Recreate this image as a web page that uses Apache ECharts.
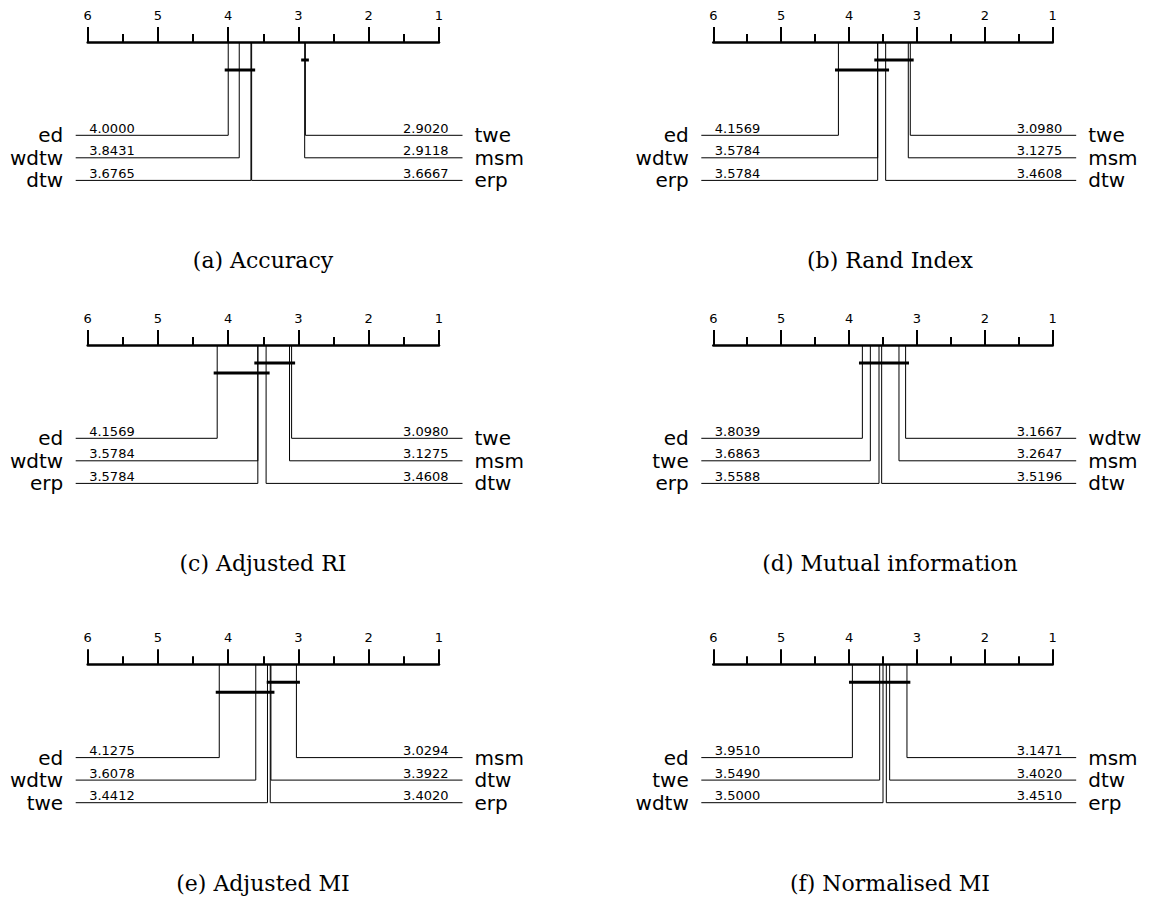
<!DOCTYPE html>
<html>
<head>
<meta charset="utf-8">
<script src="https://cdn.jsdelivr.net/npm/echarts@6/dist/echarts.min.js"></script>
<style>
html,body{margin:0;padding:0;background:#fff;}
#chart{width:1166px;height:899px;}
</style>
</head>
<body>
<div id="chart"></div>
<script>
// ---------- DATA ----------
const rankTicks = [1, 2, 3, 4, 5, 6];
const captions = ['(a) Accuracy', '(b) Rand Index', '(c) Adjusted RI',
                  '(d) Mutual information', '(e) Adjusted MI', '(f) Normalised MI'];

// first three = left side (top to bottom), last three = right side (top to bottom)
const methodsA = ['ed', 'wdtw', 'dtw', 'twe', 'msm', 'erp'];
const ranksA   = [4.0000, 3.8431, 3.6765, 2.9020, 2.9118, 3.6667];
const cliquesA = [['twe', 'msm'], ['ed', 'wdtw', 'dtw', 'erp']];

const methodsB = ['ed', 'wdtw', 'erp', 'twe', 'msm', 'dtw'];
const ranksB   = [4.1569, 3.5784, 3.5784, 3.0980, 3.1275, 3.4608];
const cliquesB = [['wdtw', 'erp', 'dtw', 'msm', 'twe'], ['ed', 'wdtw', 'erp', 'dtw']];

const methodsC = ['ed', 'wdtw', 'erp', 'twe', 'msm', 'dtw'];
const ranksC   = [4.1569, 3.5784, 3.5784, 3.0980, 3.1275, 3.4608];
const cliquesC = [['wdtw', 'erp', 'dtw', 'msm', 'twe'], ['ed', 'wdtw', 'erp', 'dtw']];

const methodsD = ['ed', 'twe', 'erp', 'wdtw', 'msm', 'dtw'];
const ranksD   = [3.8039, 3.6863, 3.5588, 3.1667, 3.2647, 3.5196];
const cliquesD = [['ed', 'twe', 'erp', 'dtw', 'msm', 'wdtw']];

const methodsE = ['ed', 'wdtw', 'twe', 'msm', 'dtw', 'erp'];
const ranksE   = [4.1275, 3.6078, 3.4412, 3.0294, 3.3922, 3.4020];
const cliquesE = [['erp', 'dtw', 'msm'], ['ed', 'wdtw', 'twe', 'erp', 'dtw']];

const methodsF = ['ed', 'twe', 'wdtw', 'msm', 'dtw', 'erp'];
const ranksF   = [3.9510, 3.5490, 3.5000, 3.1471, 3.4020, 3.4510];
const cliquesF = [['ed', 'twe', 'wdtw', 'erp', 'dtw', 'msm']];

const panels = [
  [methodsA, ranksA, cliquesA], [methodsB, ranksB, cliquesB],
  [methodsC, ranksC, cliquesC], [methodsD, ranksD, cliquesD],
  [methodsE, ranksE, cliquesE], [methodsF, ranksF, cliquesF]
];

// ---------- LAYOUT / STYLE ----------
const colLeft = [87.7, 713.3];
const colWidth = [351.3, 339.4];
const rowTop = [42, 345, 664.3];
const captionX = [263, 890];
const captionY = [260, 563, 883.5];
const ROW_OFF = [93.3, 115.8, 138.4];
const BAR_OFF = [18, 28];
const BAR_EXT = 0.05;
const FONT = '"DejaVu Sans", sans-serif';

const grids = [], xAxes = [], yAxes = [], series = [];

panels.forEach((p, gi) => {
  const col = gi % 2, row = Math.floor(gi / 2);
  const [names, ranks, cliques] = p;
  grids.push({left: colLeft[col], top: rowTop[row], width: colWidth[col], height: 140,
              containLabel: false, outerBoundsMode: 'none'});
  xAxes.push({
    gridIndex: gi, type: 'value',
    min: rankTicks[0], max: rankTicks[rankTicks.length - 1], interval: 1,
    inverse: true, position: 'top',
    axisLine: {show: true, onZero: false, lineStyle: {color: '#000', width: 2.5}},
    axisTick: {show: true, length: 15, lineStyle: {color: '#000', width: 2}},
    minorTick: {show: true, splitNumber: 2, length: 8, lineStyle: {color: '#000', width: 2}},
    axisLabel: {show: true, margin: 20, fontSize: 13, fontFamily: FONT, color: '#000'},
    splitLine: {show: false}, minorSplitLine: {show: false}
  });
  yAxes.push({gridIndex: gi, type: 'value', min: 0, max: 1, inverse: true, show: false});

  // method connectors + labels
  series.push({
    type: 'custom', xAxisIndex: gi, yAxisIndex: gi, clip: false, silent: true,
    data: ranks.map((r, i) => [r, i]),
    renderItem: function (params, api) {
      const r = api.value(0), i = api.value(1);
      const left = i < 3;
      const rowIdx = i % 3;
      const pt = api.coord([r, 0]);
      const x6 = api.coord([6, 0])[0], x1 = api.coord([1, 0])[0];
      const y = pt[1] + ROW_OFF[rowIdx];
      const xEnd = left ? x6 - 12 : x1 + 23.5;
      return {
        type: 'group',
        children: [
          {type: 'polyline', shape: {points: [[pt[0], pt[1]], [pt[0], y], [xEnd, y]]},
           style: {stroke: '#000', lineWidth: 1, fill: null}},
          {type: 'text', style: {text: names[i], x: left ? xEnd - 12.5 : xEnd + 12, y: y,
            align: left ? 'right' : 'left', verticalAlign: 'middle',
            fontSize: 20, fontFamily: FONT, fill: '#000'}},
          {type: 'text', style: {text: r.toFixed(4), x: left ? x6 + 1.5 : x1 + 9.5, y: y - 0.5,
            align: left ? 'left' : 'right', verticalAlign: 'bottom',
            fontSize: 13, fontFamily: FONT, fill: '#000'}}
        ]
      };
    }
  });

  // clique bars
  series.push({
    type: 'custom', xAxisIndex: gi, yAxisIndex: gi, clip: false, silent: true,
    data: cliques.map((members, level) => {
      const rs = members.map(m => ranks[names.indexOf(m)]);
      return [Math.max(...rs), Math.min(...rs), level];
    }),
    renderItem: function (params, api) {
      const hi = api.value(0), lo = api.value(1), level = api.value(2);
      const a = api.coord([hi + BAR_EXT, 0]);
      const b = api.coord([lo - BAR_EXT, 0]);
      const y = a[1] + BAR_OFF[level];
      return {type: 'line', shape: {x1: a[0], y1: y, x2: b[0], y2: y},
              style: {stroke: '#000', lineWidth: 3}};
    }
  });
});

const chart = echarts.init(document.getElementById('chart'), null, {renderer: 'svg'});
chart.setOption({
  animation: false,
  backgroundColor: '#fff',
  grid: grids,
  xAxis: xAxes,
  yAxis: yAxes,
  series: series,
  graphic: captions.map((c, i) => ({
    type: 'text', x: captionX[i % 2], y: captionY[Math.floor(i / 2)], silent: true,
    style: {text: c, align: 'center', verticalAlign: 'middle',
            fontSize: 22, fontFamily: '"DejaVu Serif", serif', fill: '#000'}
  }))
});
</script>
</body>
</html>
